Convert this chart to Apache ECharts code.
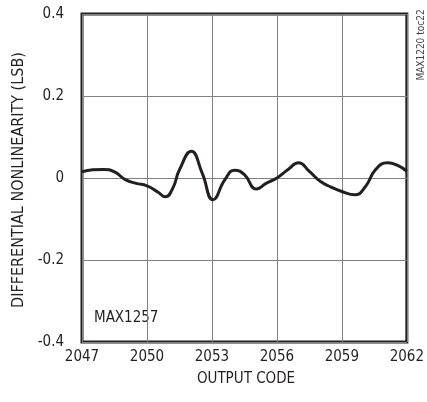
<!DOCTYPE html>
<html>
<head>
<meta charset="utf-8">
<script src="https://cdn.jsdelivr.net/npm/echarts@6/dist/echarts.min.js"></script>
<style>html,body{margin:0;padding:0;background:#fff}#c{width:427px;height:402px}</style>
</head>
<body>
<div id="c"></div>
<script>
const codes = [2047, 2047.5, 2048, 2048.5, 2049, 2049.5, 2050, 2050.5, 2050.85, 2051.2, 2051.5, 2052.05, 2052.55, 2053.05, 2053.6, 2054.05, 2054.5, 2055.05, 2055.5, 2056, 2056.5, 2057, 2057.5, 2058, 2058.5, 2059, 2059.6, 2060.1, 2060.55, 2061.1, 2061.6, 2062];
const dnl = [0.015, 0.02, 0.021, 0.015, -0.004, -0.013, -0.019, -0.034, -0.046, -0.024, 0.02, 0.065, 0.012, -0.053, -0.004, 0.019, 0.008, -0.027, -0.013, 0.0, 0.02, 0.037, 0.016, -0.008, -0.022, -0.033, -0.041, -0.02, 0.02, 0.037, 0.03, 0.016];
const xTicks = [2047, 2050, 2053, 2056, 2059, 2062];
const yTicks = [-0.4, -0.2, 0, 0.2, 0.4];
const xTitle = 'OUTPUT CODE';
const yTitle = 'DIFFERENTIAL NONLINEARITY (LSB)';
const partLabel = 'MAX1257';
const tocLabel = 'MAX1220 toc22';

const FONT = '"Liberation Sans Narrow", "DejaVu Sans", sans-serif';
const TXT = '#231f20';
const chart = echarts.init(document.getElementById('c'), null, {renderer: 'canvas'});
chart.setOption({
  animation: false,
  backgroundColor: '#fff',
  grid: {left: 82, top: 14, width: 328, height: 328, show: true, borderColor: '#231f20', borderWidth: 3, backgroundColor: 'transparent'},
  xAxis: {
    type: 'value', min: 2047, max: 2062, interval: 3,
    axisLine: {show: false}, axisTick: {show: false},
    splitLine: {show: true, lineStyle: {color: '#808080', width: 1}},
    axisLabel: {color: TXT, fontFamily: FONT, fontWeight: 'condensed', fontSize: 15, margin: 8,
      formatter: v => xTicks.includes(v) ? String(v) : ''}
  },
  yAxis: {
    type: 'value', min: -0.4, max: 0.4, interval: 0.2,
    axisLine: {show: false}, axisTick: {show: false},
    splitLine: {show: true, lineStyle: {color: '#808080', width: 1}},
    axisLabel: {color: TXT, fontFamily: FONT, fontWeight: 'condensed', fontSize: 15, margin: 18,
      formatter: v => { const t = yTicks.find(y => Math.abs(y - v) < 1e-9); return t === undefined ? '' : (t === 0 ? '0' : String(t)); }}
  },
  series: [{
    type: 'line', smooth: 0.5, symbol: 'none',
    data: codes.map((c, i) => [c, dnl[i]]),
    lineStyle: {color: '#231f20', width: 3}
  }],
  graphic: [
    {type: 'text', position: [246, 379], style: {text: xTitle, fill: TXT, font: 'condensed 15px ' + FONT, textAlign: 'center', textVerticalAlign: 'middle'}},
    {type: 'text', rotation: Math.PI / 2, position: [19, 180], style: {text: yTitle, fill: TXT, font: 'condensed 16px ' + FONT, textAlign: 'center', textVerticalAlign: 'middle'}},
    {type: 'text', position: [94, 318], style: {text: partLabel, fill: TXT, font: 'condensed 15px ' + FONT, textAlign: 'left', textVerticalAlign: 'middle'}},
    {type: 'text', rotation: Math.PI / 2, position: [421, 45], style: {text: tocLabel, fill: '#444', font: 'condensed 10px ' + FONT, textAlign: 'center', textVerticalAlign: 'middle'}}
  ]
});
</script>
</body>
</html>
